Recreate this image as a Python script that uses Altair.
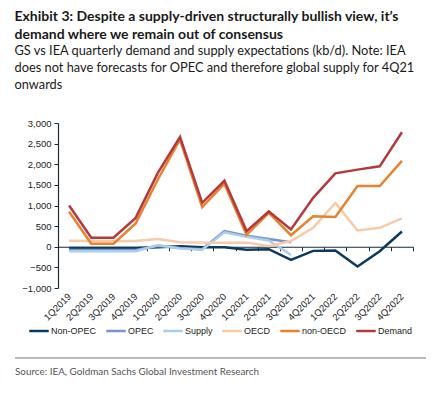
import altair as alt
import pandas as pd

quarters = ["1Q2019", "2Q2019", "3Q2019", "4Q2019", "1Q2020", "2Q2020", "3Q2020", "4Q2020",
            "1Q2021", "2Q2021", "3Q2021", "4Q2021", "1Q2022", "2Q2022", "3Q2022", "4Q2022"]

non_opec = [-30, -30, -30, -30, -10, 10, -10, -10, -70, -60, -320, -100, -90, -480, -110, 370]
opec = [-80, -80, -80, -80, 20, -30, -60, 380, 270, 190, 110]
supply = [-110, -110, -110, -110, 40, -40, -70, 350, 240, 150, -200]
oecd = [145, 140, 140, 140, 190, 110, 100, 100, 100, 20, 140, 460, 1060, 395, 460, 690]
non_oecd = [847, 73, 73, 565, 1630, 2600, 960, 1530, 290, 820, 280, 740, 720, 1470, 1470, 2080]
demand = [1000, 220, 220, 700, 1790, 2660, 1065, 1600, 380, 855, 420, 1185, 1780, 1870, 1950, 2775]

series_names = ["Non-OPEC", "OPEC", "Supply", "OECD", "non-OECD", "Demand"]
series_values = [non_opec, opec, supply, oecd, non_oecd, demand]
series_colors = ["#0d3a5c", "#7596c8", "#a9cdee", "#f9c9a8", "#e8822e", "#b5383c"]

rows = []
for name, vals in zip(series_names, series_values):
    for q, v in zip(quarters, vals):
        rows.append({"quarter": q, "series": name, "value": v})
df = pd.DataFrame(rows)

NARROW = "Lato, Roboto, sans-serif"
SANS = "Liberation Sans, Arial, sans-serif"

lines = alt.Chart(df).mark_line(strokeWidth=2.5).encode(
    x=alt.X("quarter:N", sort=quarters, title=None,
            scale=alt.Scale(type="band", paddingInner=0, paddingOuter=0),
            bandPosition=0.5,
            axis=alt.Axis(labelAngle=-45, labelAlign="right", labelBaseline="middle",
                          labelFont=SANS, labelFontSize=9.5, labelColor="#222",
                          domainColor="#1a2a3a", domainWidth=1.2, tickColor="#1a2a3a",
                          tickSize=4, tickBand="extent", offset=-41.25, labelPadding=44)),
    y=alt.Y("value:Q", title=None,
            scale=alt.Scale(domain=[-1000, 3000], nice=False),
            axis=alt.Axis(values=[-1000, -500, 0, 500, 1000, 1500, 2000, 2500, 3000],
                          format=",.0f", grid=False, labelFont=SANS, labelFontSize=9.5,
                          labelColor="#222", domainColor="#1a2a3a", domainWidth=1.2,
                          tickColor="#1a2a3a", tickSize=4, labelPadding=3)),
    color=alt.Color("series:N", sort=series_names,
                    scale=alt.Scale(domain=series_names, range=series_colors),
                    legend=alt.Legend(title=None, orient="none", direction="horizontal",
                                      legendX=-30, legendY=197, symbolType="stroke",
                                      symbolSize=380, symbolStrokeWidth=2.5,
                                      labelFont=SANS, labelFontSize=9, labelColor="#222",
                                      labelOffset=1, columnPadding=4, padding=0)),
    detail="series:N",
)

one = pd.DataFrame({"k": [0]})
rule = alt.Chart(one).mark_rule(color="#777", strokeWidth=1).encode(
    x=alt.value(-43), x2=alt.value(368), y=alt.value(235))
source = alt.Chart(one).mark_text(align="left", baseline="alphabetic", font=NARROW,
                                  fontSize=9.9, color="#555").encode(
    x=alt.value(-43), y=alt.value(252),
    text=alt.value("Source: IEA, Goldman Sachs Global Investment Research"))

chart = alt.layer(lines, rule, source).properties(
    width=355, height=165,
    padding={"left": 6, "top": 2, "right": 2, "bottom": 5},
    title=alt.Title(
        text=["Exhibit 3: Despite a supply-driven structurally bullish view, it’s",
              "demand where we remain out of consensus"],
        subtitle=["GS vs IEA quarterly demand and supply expectations (kb/d). Note: IEA",
                  "does not have forecasts for OPEC and therefore global supply for 4Q21",
                  "onwards"],
        anchor="start", frame="bounds", font=NARROW, fontSize=14, fontWeight="bold",
        lineHeight=18, color="#1a1a1a", subtitleFont=NARROW, subtitleFontSize=12.8,
        subtitleLineHeight=17, subtitleColor="#1a1a1a", subtitlePadding=3, offset=26),
).configure_view(stroke=None)

chart.save("out.html", embed_options={"renderer": "svg", "actions": False})
